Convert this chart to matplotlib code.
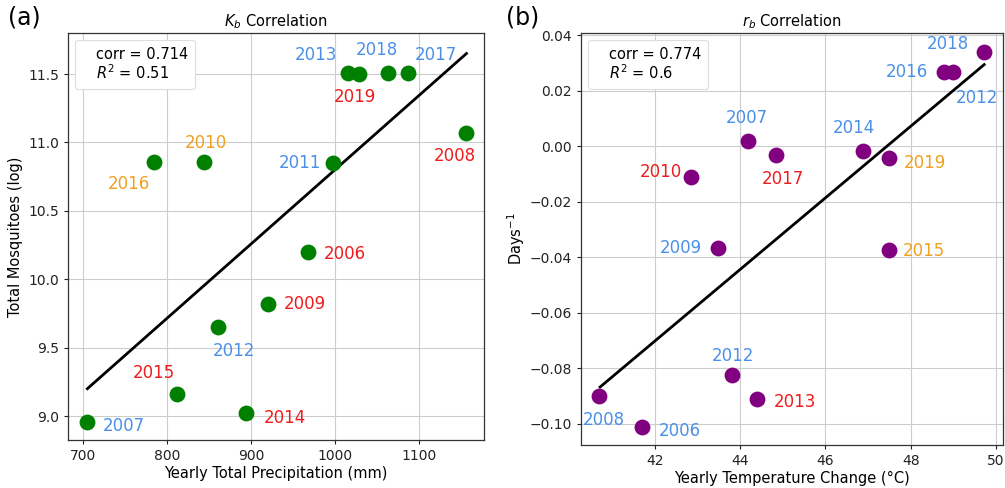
import numpy as np
import matplotlib
matplotlib.use('Agg')
import matplotlib.pyplot as plt
from matplotlib.lines import Line2D

BLUE = '#4a90e8'
RED = '#ee1c1c'
ORANGE = '#f0a020'

# Panel (a): precipitation vs total mosquitoes
years_a = ['2007', '2015', '2012', '2014', '2009', '2006', '2011', '2016', '2010',
           '2013', '2019', '2018', '2017', '2008']
precip = [705, 812, 861, 894, 920, 967, 997, 784, 844, 1015, 1028, 1063, 1086, 1156]
mosq_log = [8.96, 9.16, 9.65, 9.02, 9.82, 10.20, 10.85, 10.86, 10.86, 11.51, 11.50,
            11.51, 11.51, 11.07]
colors_a = [BLUE, RED, BLUE, RED, RED, RED, BLUE, ORANGE, ORANGE, BLUE, RED, BLUE, BLUE, RED]
fit_a_x = [705, 1156]
fit_a_y = [9.20, 11.65]

# Panel (b): temperature vs r_b
years_b = ['2008', '2006', '2012', '2013', '2009', '2015', '2010', '2007', '2017',
           '2014', '2019', '2016', '2012', '2018']
temp = [40.69, 41.70, 43.81, 44.40, 43.48, 47.48, 42.84, 44.19, 44.85, 46.87, 47.48,
        48.77, 49.00, 49.72]
rb = [-0.090, -0.101, -0.0825, -0.091, -0.0365, -0.0375, -0.0112, 0.0018, -0.003,
      -0.0018, -0.0042, 0.0267, 0.0267, 0.034]
colors_b = [BLUE, BLUE, BLUE, RED, BLUE, ORANGE, RED, BLUE, RED, BLUE, ORANGE, BLUE, BLUE, BLUE]
fit_b_x = [40.72, 49.72]
fit_b_y = [-0.0867, 0.0294]

# label offsets in pixels (dx, dy, ha)
offs_a = [(15, -4, 'left'), (-23, 21, 'center'), (15, -24, 'center'), (18, -5, 'left'),
          (16, 0, 'left'), (16, -2, 'left'), (-12, 0, 'right'), (-25, -22, 'center'),
          (2, 19, 'center'), (-11, 18, 'right'), (-4, -23, 'center'), (-11, 23, 'center'),
          (28, 18, 'center'), (-12, -23, 'center')]
offs_b = [(5, -24, 'center'), (17, -4, 'left'), (1, 19, 'center'), (17, -3, 'left'),
          (-16, 0, 'right'), (14, -1, 'left'), (-9, 5, 'right'), (-1, 23, 'center'),
          (7, -24, 'center'), (-9, 23, 'center'), (15, -5, 'left'), (-16, 0, 'right'),
          (23, -26, 'center'), (-36, 8, 'center')]


def style_axes(ax):
    ax.grid(True, color='#cccccc', linewidth=0.8)
    ax.set_axisbelow(True)
    for sp in ax.spines.values():
        sp.set_color('#333333')
        sp.set_linewidth(0.9)
    ax.tick_params(labelsize=10, colors='#222222', length=3)


def draw_panel(ax, x, y, years, cols, offs, fx, fy, mcolor, corr_txt, r2_txt):
    ax.plot(fx, fy, color='black', linewidth=2, zorder=2)
    ax.scatter(x, y, s=130, color=mcolor, zorder=3, linewidths=0)
    for xi, yi, yr, c, (dx, dy, ha) in zip(x, y, years, cols, offs):
        ax.annotate(yr, (xi, yi), xytext=(dx, dy), textcoords='offset pixels',
                    ha=ha, va='center', color=c, fontsize=12)
    handles = [Line2D([], [], linestyle='none'), Line2D([], [], linestyle='none')]
    leg = ax.legend(handles, [corr_txt, r2_txt], loc='upper left', fontsize=10.5,
                    handlelength=0.6, handletextpad=0.4, borderpad=0.45,
                    labelspacing=0.1, framealpha=1, edgecolor='#dddddd', fancybox=True)
    leg.get_frame().set_linewidth(0.8)
    style_axes(ax)


fig = plt.figure(figsize=(10.05, 4.88), dpi=100)
ax1 = fig.add_axes([0.0677, 0.0984, 0.414, 0.834])
ax2 = fig.add_axes([0.578, 0.088, 0.42, 0.844])

draw_panel(ax1, precip, mosq_log, years_a, colors_a, offs_a, fit_a_x, fit_a_y,
           'green', 'corr = 0.714', '$R^2$ = 0.51')
ax1.set_xlim(682, 1177)
ax1.set_ylim(8.825, 11.80)
ax1.set_xticks([700, 800, 900, 1000, 1100])
ax1.set_yticks([9.0, 9.5, 10.0, 10.5, 11.0, 11.5])
ax1.set_xlabel('Yearly Total Precipitation (mm)', fontsize=10.5, labelpad=2)
ax1.set_ylabel('Total Mosquitoes (log)', fontsize=10.5, labelpad=4)
ax1.set_title('$K_b$ Correlation', fontsize=10.5, pad=5)

draw_panel(ax2, temp, rb, years_b, colors_b, offs_b, fit_b_x, fit_b_y,
           'purple', 'corr = 0.774', '$R^2$ = 0.6')
ax2.set_xlim(40.27, 50.16)
ax2.set_ylim(-0.1076, 0.0407)
ax2.set_xticks([42, 44, 46, 48, 50])
ax2.set_yticks([-0.10, -0.08, -0.06, -0.04, -0.02, 0.00, 0.02, 0.04])
ax2.set_yticklabels(['\u22120.10', '\u22120.08', '\u22120.06', '\u22120.04',
                     '\u22120.02', '0.00', '0.02', '0.04'])
ax2.set_xlabel('Yearly Temperature Change (\u00b0C)', fontsize=10.5, labelpad=2)
ax2.set_ylabel('Days$^{-1}$', fontsize=10.5, labelpad=2)
ax2.set_title('$r_b$ Correlation', fontsize=10.5, pad=5)

fig.text(0.008, 0.965, '(a)', fontsize=17, va='center', ha='left')
fig.text(0.503, 0.965, '(b)', fontsize=17, va='center', ha='left')

fig.savefig('out.png', dpi=100)
